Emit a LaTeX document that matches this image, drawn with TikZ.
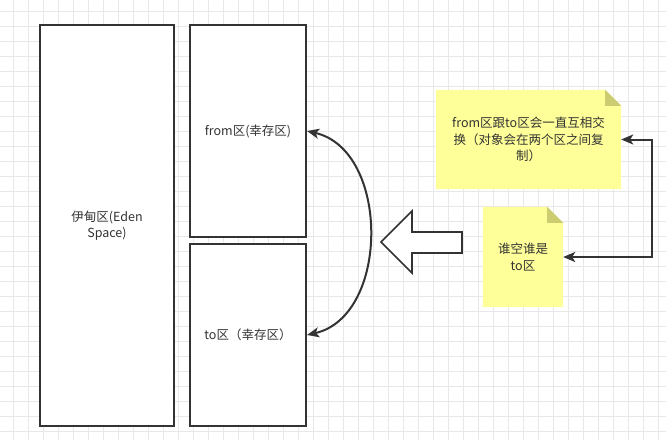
\documentclass[tikz,border=0pt]{standalone}
\usepackage{fontspec}
\setmainfont{Noto Sans CJK SC}
\usetikzlibrary{arrows.meta,backgrounds}
\definecolor{ink}{HTML}{333333}
\definecolor{gridc}{HTML}{E8E8E8}
\definecolor{notefill}{HTML}{FFFF99}
\definecolor{foldfill}{HTML}{CCCC70}
\tikzset{
  boxnode/.style={draw=ink, line width=2pt, fill=white, rectangle, inner sep=0pt, text=ink, align=center, font=\fontsize{12.5}{16}\selectfont},
  notenode/.style={rectangle, inner sep=0pt, text=ink, align=center, font=\fontsize{12.5}{16.5}\selectfont},
  gridline/.style={draw=gridc, line width=0.8pt},
  conn/.style={draw=ink, line width=2pt, {Stealth[length=12pt,width=10pt,inset=3pt]}-{Stealth[length=12pt,width=10pt,inset=3pt]}},
}
\begin{document}
\begin{tikzpicture}[x=1pt,y=-1pt]
\useasboundingbox (0,0) rectangle (666,440);
\begin{scope}[on background layer]
  \fill[white] (0,0) rectangle (666,440);
  \foreach \i in {0,...,43} \draw[gridline] (13.33+15*\i,0) -- (13.33+15*\i,440);
  \foreach \j in {0,...,28} \draw[gridline] (0,11.67+15*\j) -- (666,11.67+15*\j);
\end{scope}

\node[boxnode, minimum width=134pt, minimum height=401pt] (eden) at (107,225.5) {伊甸区(Eden\\Space)};
\node[boxnode, minimum width=116pt, minimum height=212pt] (from) at (248,131) {};
\node[boxnode, minimum width=116pt, minimum height=182pt] (to) at (248,335) {};
\node[text=ink, font=\fontsize{12.5}{16}\selectfont] (fromlabel) at (248,131) {from区(幸存区)};
\node[text=ink, font=\fontsize{12.5}{16}\selectfont] (tolabel) at (248,335) {to区（幸存区）};

\node[notenode, minimum width=185pt, minimum height=99pt] (note1) at (528.5,139.5) {from区跟to区会一直互相交\\换（对象会在两个区之间复\\制）};
\node[notenode, minimum width=80pt, minimum height=100pt] (note2) at (523,257) {谁空谁是\\to区};

\begin{scope}[on background layer]
  \foreach \n in {note1,note2} {
    \fill[notefill] (\n.south west) -- (\n.north west) -- ([xshift=-16pt]\n.north east) -- ([yshift=-16pt]\n.north east) -- (\n.south east) -- cycle;
    \fill[foldfill] ([xshift=-16pt]\n.north east) -- ([xshift=-16pt,yshift=-16pt]\n.north east) -- ([yshift=-16pt]\n.north east) -- cycle;
  }
\end{scope}

\draw[conn] (to.east) .. controls (390,316) and (390,150) .. (from.east);

\draw[draw=ink, line width=1.6pt, fill=white, line join=miter]
  (381,242) -- (412,211) -- (412,232) -- (462,232) -- (462,253) -- (412,253) -- (412,273) -- cycle;

\draw[conn, line join=miter] (note1.east) -- ++(31,0) |- (note2.east);
\end{tikzpicture}
\end{document}
